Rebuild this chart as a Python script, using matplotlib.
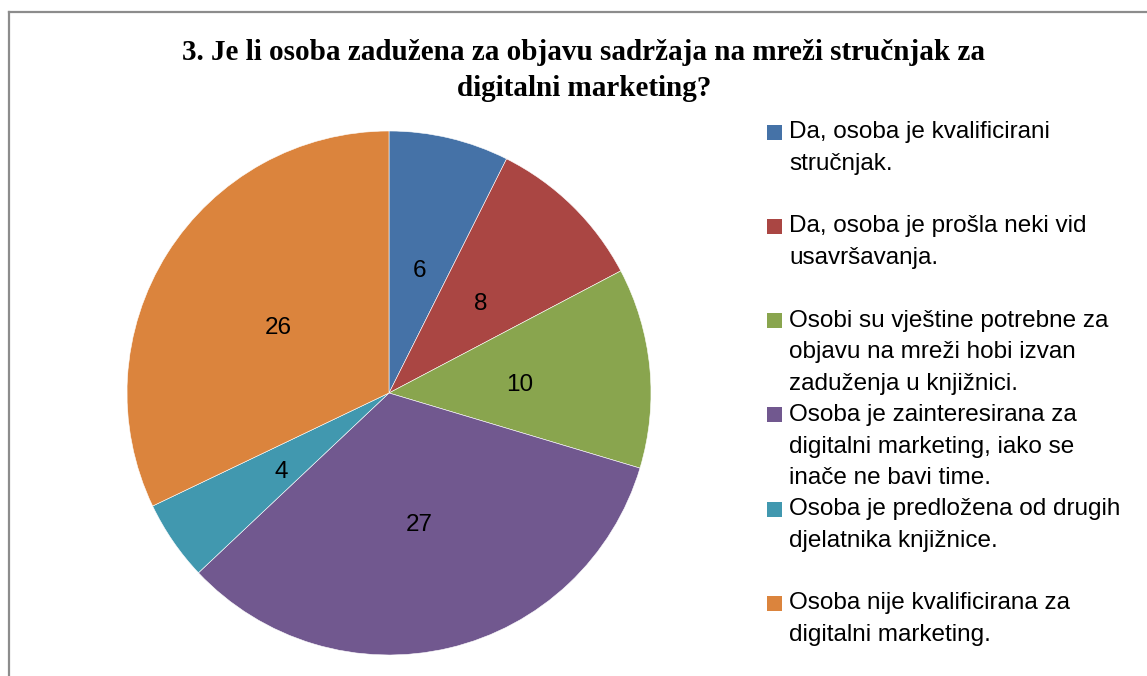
import matplotlib
matplotlib.use("Agg")
import matplotlib.pyplot as plt
import matplotlib.transforms as mtransforms
from matplotlib.lines import Line2D
from matplotlib.patches import Rectangle

# podaci
naslov = "3. Je li osoba zadužena za objavu sadržaja na mreži stručnjak za\ndigitalni marketing?"
odgovori = [
    "Da, osoba je kvalificirani\nstručnjak.",
    "Da, osoba je prošla neki vid\nusavršavanja.",
    "Osobi su vještine potrebne za\nobjavu na mreži hobi izvan\nzaduženja u knjižnici.",
    "Osoba je zainteresirana za\ndigitalni marketing, iako se\ninače ne bavi time.",
    "Osoba je predložena od drugih\ndjelatnika knjižnice.",
    "Osoba nije kvalificirana za\ndigitalni marketing.",
]
broj = [6, 8, 10, 27, 4, 26]
boje = ["#4572A7", "#AA4643", "#89A54E", "#71588F", "#4198AF", "#DB843D"]

W, H = 1147, 676
fig = plt.figure(figsize=(W / 100, H / 100), dpi=100)

# okvir grafikona (lijevo i gore)
fig.add_artist(Line2D([8.5 / W, 8.5 / W], [0, 1 - 11.5 / H], color="#8c8c8c", lw=1.6))
fig.add_artist(Line2D([8.5 / W, 1], [1 - 11.5 / H, 1 - 11.5 / H], color="#8c8c8c", lw=1.6))

# pita
cx, cy, r = 389, 393, 262
ax = fig.add_axes([(cx - r) / W, 1 - (cy + r) / H, 2 * r / W, 2 * r / H])
klinovi, _, oznake = ax.pie(broj, colors=boje, startangle=90, counterclock=False,
                            autopct=lambda p: "%d" % round(p * sum(broj) / 100),
                            pctdistance=0.5,
                            wedgeprops=dict(edgecolor="white", linewidth=0.4),
                            textprops=dict(family="Liberation Sans", fontsize=17.5, color="black"))
pomak = mtransforms.ScaledTranslation(0, -5 / 100, fig.dpi_scale_trans)
for t in oznake:
    t.set_transform(t.get_transform() + pomak)
ax.set_xlim(-1, 1)
ax.set_ylim(-1, 1)
ax.set_aspect("equal")

fig.text(584 / W, 1 - 39 / H, naslov, ha="center", va="top", family="Liberation Serif",
         fontweight="bold", fontsize=21, linespacing=1.45)

# legenda, svaki unos zauzima tri retka
for i, (txt, c) in enumerate(zip(odgovori, boje)):
    yc = 132 + 94.3 * i
    fig.add_artist(Rectangle((767 / W, 1 - (yc + 7.5) / H), 15 / W, 15 / H,
                             facecolor=c, edgecolor="none"))
    fig.text(789 / W, 1 - (yc - 11) / H, txt, ha="left", va="top",
             family="Liberation Sans", fontsize=17.5, linespacing=1.57)

fig.savefig("out.png", dpi=100, facecolor="white")
